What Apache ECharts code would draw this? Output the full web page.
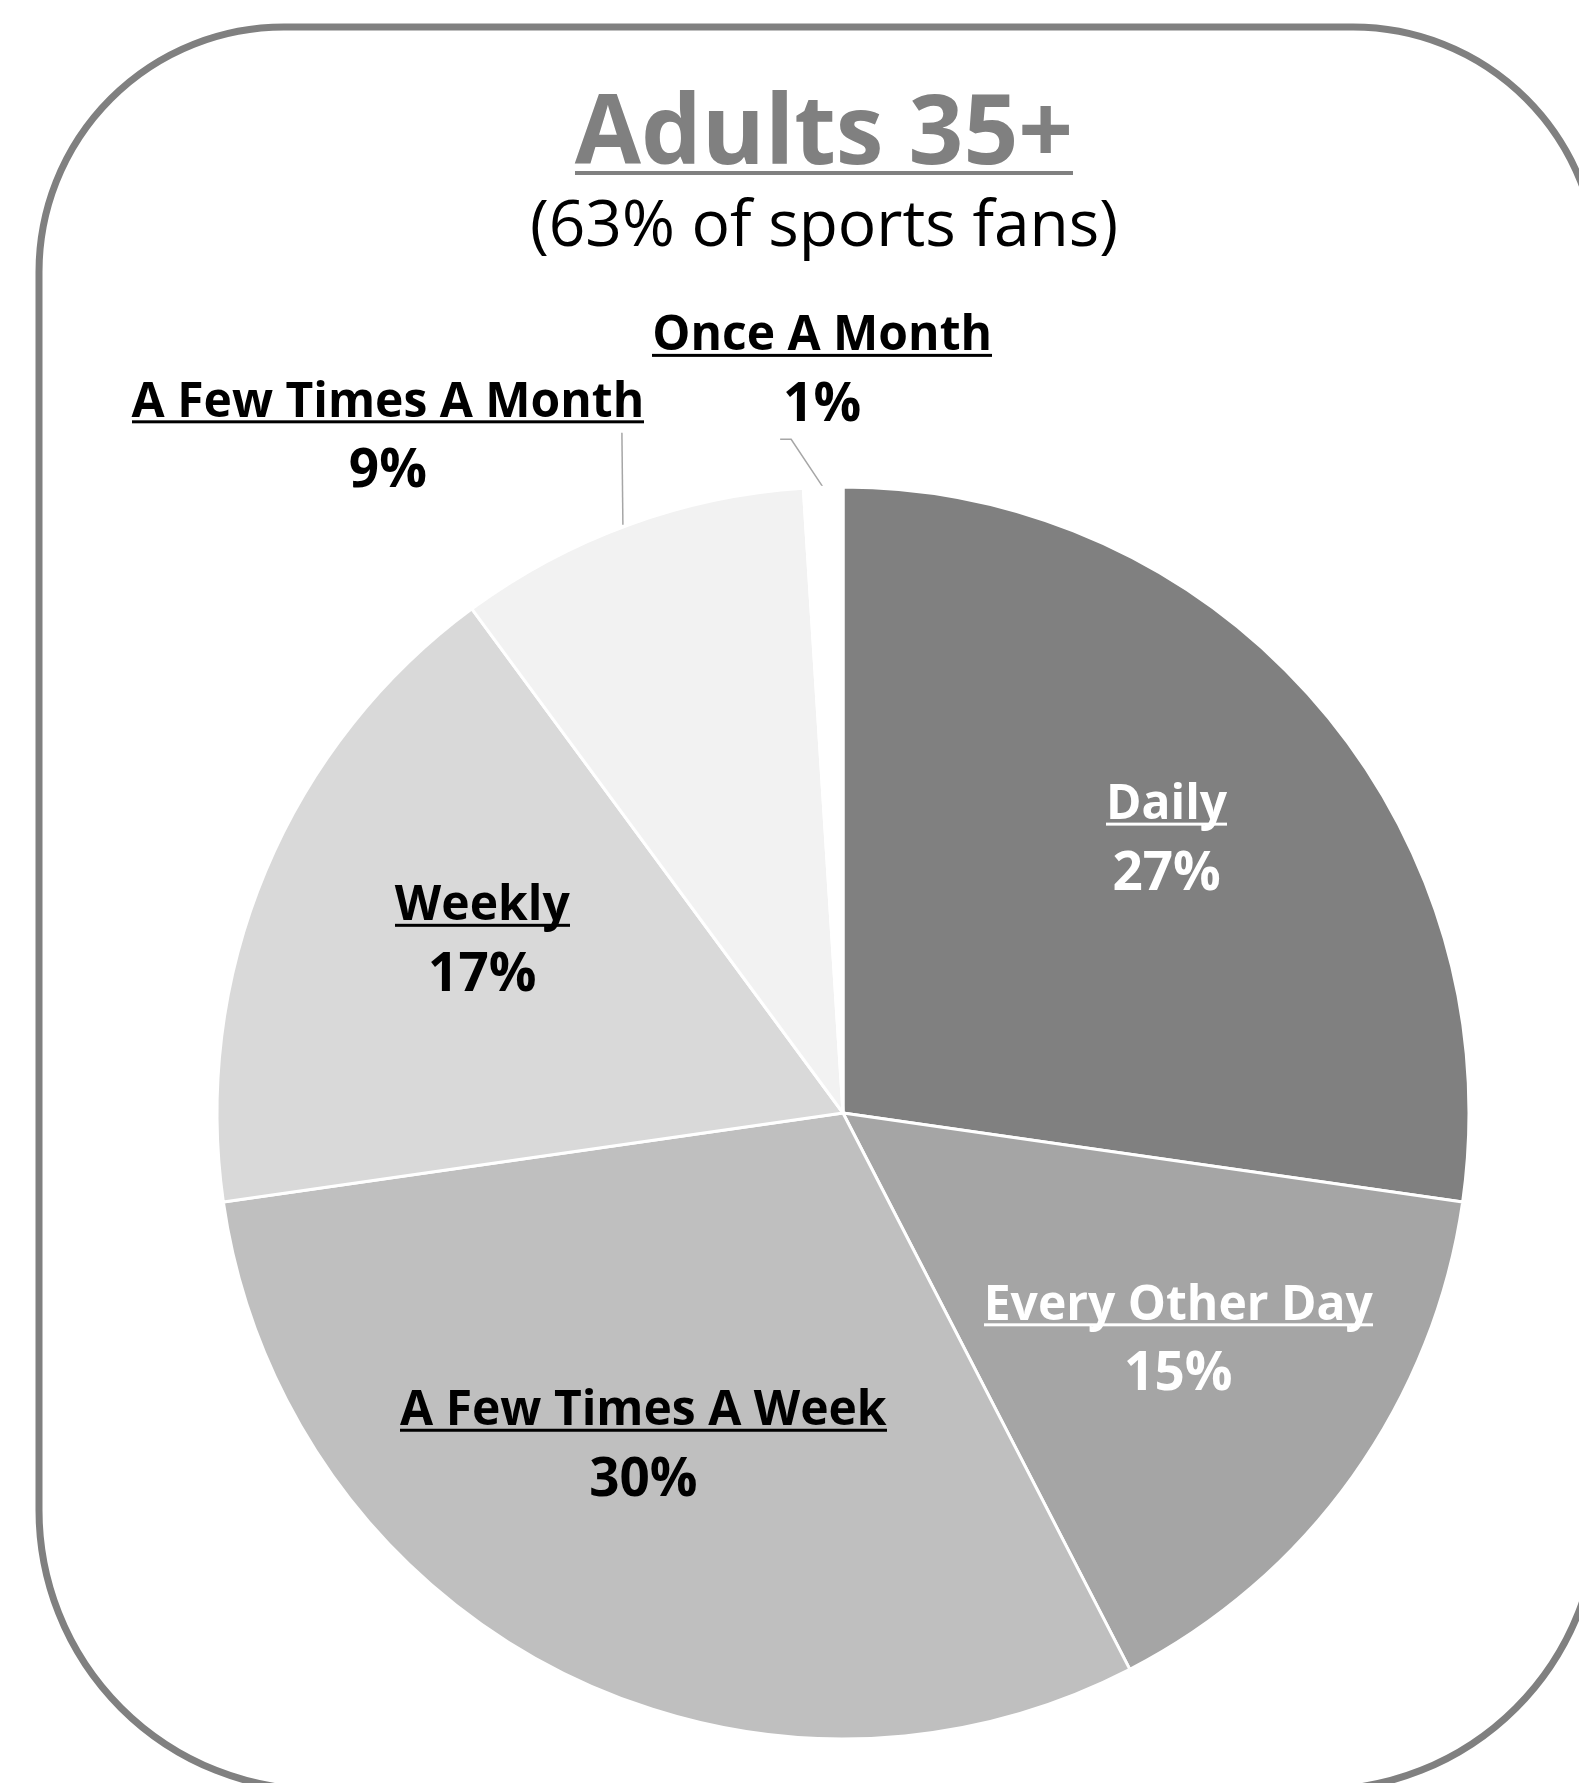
<!DOCTYPE html>
<html>
<head>
<meta charset="utf-8">
<title>Adults 35+</title>
<script src="https://cdn.jsdelivr.net/npm/echarts@6/dist/echarts.min.js"></script>
<style>
  html, body { margin: 0; padding: 0; background: #fff; }
  #chart { width: 1579px; height: 1783px; }
</style>
</head>
<body>
<div id="chart"></div>
<script>
// chart data
const titleText = 'Adults 35+';
const subtitleText = '(63% of sports fans)';
const categories = ['Daily', 'Every Other Day', 'A Few Times A Week', 'Weekly', 'A Few Times A Month', 'Once A Month'];
const shares = [27, 15, 30, 17, 9, 1];

// styles
const sliceColors = ['#808080', '#a5a5a5', '#bfbfbf', '#d9d9d9', '#f2f2f2', '#ffffff'];
const labelInk = ['w', 'w', 'b', 'b', 'b', 'b'];
const outsideIdx = [4, 5];
// small hand nudges for the inner labels (px), like the original's best-fit placement
const innerNudge = [[19, -9], [7, -6], [-15, -25], [11, -16], [0, 0], [0, 0]];
const FONT = '"Open Sans", "Noto Sans", sans-serif';

// echarts rich text has no underline, so a thin bar image is stretched behind the token
function underline(color, h, y, thick) {
    const c = document.createElement('canvas');
    c.width = 4;
    c.height = h;
    const ctx = c.getContext('2d');
    ctx.fillStyle = color;
    ctx.fillRect(0, y, 4, thick);
    return c;
}

function labelRich() {
    const base = { fontFamily: FONT, fontSize: 48, fontWeight: 'bold', lineHeight: 69 };
    return {
        nw: Object.assign({}, base, { color: '#fff', height: 48, backgroundColor: { image: underline('#fff', 48, 41, 3) } }),
        pw: Object.assign({}, base, { color: '#fff', fontSize: 53 }),
        nb: Object.assign({}, base, { color: '#000', height: 48, backgroundColor: { image: underline('#000', 48, 41, 3) } }),
        pb: Object.assign({}, base, { color: '#000', fontSize: 53 })
    };
}

function fmt(p) {
    const k = labelInk[p.dataIndex];
    return '{n' + k + '|' + p.name + '}\n{p' + k + '|' + p.value + '%}';
}

const pieCenter = [843, 1113];
const pieRadius = 626;

const sliceData = categories.map((name, i) => {
    const item = { name: name, value: shares[i], itemStyle: { color: sliceColors[i] } };
    if (outsideIdx.indexOf(i) >= 0) {
        item.label = { show: true, position: 'outside', overflow: 'none' };
        item.labelLine = { show: true };
    }
    return item;
});

// invisible ring only used to place the inner labels further out
const labelData = categories.map((name, i) => ({
    name: name,
    value: shares[i],
    label: { show: outsideIdx.indexOf(i) < 0 }
}));

const chart = echarts.init(document.getElementById('chart'), null, { renderer: 'canvas' });

const option = {
    backgroundColor: '#fff',
    animation: false,
    title: [
        {
            text: '{u|' + titleText + '}',
            left: 824,
            top: 82,
            padding: 0,
            textAlign: 'center',
            textStyle: {
                rich: {
                    u: {
                        fontFamily: FONT, fontSize: 96, fontWeight: 'bold', color: '#808080',
                        lineHeight: 110, height: 100,
                        backgroundColor: { image: underline('#808080', 100, 84, 4) }
                    }
                }
            }
        },
        {
            text: subtitleText,
            left: 824,
            top: 193,
            padding: 0,
            textAlign: 'center',
            textStyle: { fontFamily: FONT, fontSize: 64, fontWeight: 'normal', color: '#000', lineHeight: 70 }
        }
    ],
    graphic: [
        {
            type: 'rect',
            z: -10,
            shape: { x: 39, y: 27, width: 1559, height: 1763, r: [245, 245, 280, 280] },
            style: { fill: 'none', stroke: '#808080', lineWidth: 7 }
        }
    ],
    series: [
        {
            type: 'pie',
            center: pieCenter,
            radius: pieRadius,
            startAngle: 90,
            clockwise: true,
            silent: true,
            itemStyle: { borderColor: '#fff', borderWidth: 3 },
            label: { show: false, formatter: fmt, rich: labelRich() },
            labelLine: { show: false, lineStyle: { color: '#a6a6a6', width: 1.5 } },
            labelLayout: function (params) {
                const pts = params.labelLinePoints;
                if (!pts) return {};
                const p0 = pts[0];
                if (params.dataIndex === 4) {
                    return {
                        x: p0[0] - 241, y: p0[1] - 87, align: 'center', verticalAlign: 'middle',
                        labelLinePoints: [[p0[0] - 6, p0[1]], [p0[0] - 7, p0[1] - 92], [p0[0] - 7, p0[1] - 92]]
                    };
                }
                if (params.dataIndex === 5) {
                    return {
                        x: p0[0] - 1, y: p0[1] - 116, align: 'center', verticalAlign: 'middle',
                        labelLinePoints: [[p0[0], p0[1]], [p0[0] - 32, p0[1] - 48], [p0[0] - 43, p0[1] - 48]]
                    };
                }
                return {};
            },
            data: sliceData
        },
        {
            type: 'pie',
            center: pieCenter,
            radius: [174, pieRadius],
            startAngle: 90,
            clockwise: true,
            silent: true,
            z: 5,
            itemStyle: { color: 'rgba(0,0,0,0)', borderWidth: 0 },
            label: { position: 'inside', formatter: fmt, rich: labelRich() },
            labelLine: { show: false },
            labelLayout: function (params) {
                const n = innerNudge[params.dataIndex];
                return { dx: n[0], dy: n[1] };
            },
            data: labelData
        }
    ]
};

chart.setOption(option);
</script>
</body>
</html>
